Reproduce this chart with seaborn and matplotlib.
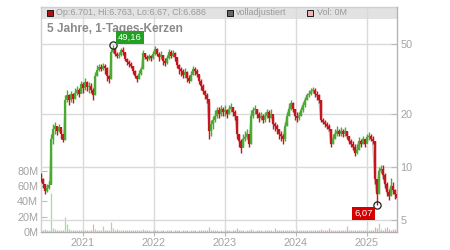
import numpy as np
import pandas as pd
import matplotlib
matplotlib.use('Agg')
import matplotlib.pyplot as plt
import matplotlib.dates as mdates
import matplotlib.ticker as mticker
from matplotlib.patches import Rectangle
import seaborn as sns

# ---------------- data ----------------
close = [8.6, 8.0, 7.3, 7.6, 7.9, 14.5, 16.5, 17.0, 16.0, 16.8,
         15.5, 14.3, 24.0, 25.5, 24.0, 26.0, 24.5, 26.5, 27.5, 26.0,
         29.5, 28.0, 30.5, 28.5, 29.0, 27.5, 25.5, 33.0, 35.5, 37.0,
         36.0, 37.5, 36.5, 33.0, 31.5, 45.0, 47.0, 44.0, 42.5, 43.5,
         46.0, 45.0, 41.0, 39.5, 38.5, 37.5, 35.0, 33.0, 31.5, 34.0,
         36.0, 44.5, 42.0, 41.0, 42.5, 41.5, 44.0, 47.0, 44.0, 42.0,
         43.5, 40.0, 39.0, 41.5, 45.0, 43.0, 44.5, 42.0, 38.0, 36.0,
         35.0, 33.5, 34.5, 32.0, 31.0, 33.5, 36.0, 35.0, 34.0, 31.0,
         29.0, 27.0, 25.5, 24.5, 16.0, 17.5, 18.5, 19.5, 21.0, 20.0,
         21.5, 20.5, 21.0, 20.0, 21.5, 22.0, 20.5, 19.5, 15.5, 14.0,
         12.8, 14.5, 14.8, 15.5, 13.5, 19.5, 21.0, 21.5, 20.0, 19.0,
         19.5, 18.5, 19.5, 20.5, 19.0, 20.0, 17.5, 17.0, 16.5, 15.5,
         15.0, 14.5, 17.0, 19.5, 21.5, 23.0, 21.5, 19.5, 19.0, 19.5,
         21.0, 22.5, 24.0, 25.5, 26.0, 27.0, 27.5, 26.0, 25.5, 24.0,
         18.5, 18.0, 17.5, 17.0, 16.5, 13.5, 14.5, 15.5, 16.0, 15.5,
         16.0, 15.5, 16.0, 15.0, 14.0, 13.5, 13.0, 12.0, 12.5, 14.0,
         13.5, 14.5, 13.5, 14.8, 15.0, 14.5, 14.0, 8.5, 7.0, 9.5,
         9.8, 9.0, 8.0, 7.2, 6.8, 7.8, 7.4, 7.0, 6.686]
high = [9.2, 8.7, 7.9, 8.0, 8.3, 15.5, 17.5, 18.0, 17.2, 17.6,
        16.5, 15.5, 25.5, 27.5, 26.0, 27.0, 26.5, 28.0, 29.0, 28.0,
        31.0, 30.5, 32.0, 31.0, 30.5, 30.0, 28.0, 34.5, 38.0, 38.5,
        38.5, 39.0, 38.5, 37.0, 33.5, 47.0, 49.16, 47.5, 45.0, 45.0,
        47.5, 48.0, 45.0, 41.5, 40.5, 39.5, 37.5, 35.5, 33.5, 35.5,
        37.0, 46.5, 44.5, 43.5, 44.0, 43.5, 45.5, 48.5, 47.5, 45.0,
        45.5, 43.5, 41.5, 43.5, 47.0, 46.0, 46.5, 45.0, 41.5, 38.5,
        37.0, 36.0, 36.5, 35.0, 33.5, 35.0, 37.5, 37.0, 36.0, 33.5,
        31.5, 29.5, 27.5, 26.5, 23.5, 18.5, 19.5, 21.0, 22.0, 22.0,
        22.5, 22.0, 22.5, 21.5, 22.5, 23.0, 22.0, 21.0, 19.5, 15.5,
        14.5, 15.5, 16.0, 16.5, 15.5, 21.0, 22.0, 22.5, 21.5, 20.5,
        20.5, 20.0, 20.5, 21.5, 21.0, 21.5, 19.5, 18.0, 17.5, 16.5,
        16.0, 15.5, 18.0, 20.5, 23.0, 24.0, 23.5, 21.5, 20.5, 20.5,
        22.0, 23.5, 25.0, 26.5, 27.5, 28.0, 28.6, 28.0, 27.0, 26.0,
        24.0, 19.0, 18.5, 18.0, 17.5, 16.5, 15.5, 16.5, 17.0, 16.5,
        16.8, 16.5, 16.8, 16.0, 15.0, 14.5, 14.0, 13.5, 13.5, 14.8,
        14.5, 15.0, 14.5, 15.5, 15.8, 15.5, 15.0, 14.0, 8.6, 10.0,
        10.3, 10.3, 9.2, 8.2, 7.5, 8.7, 8.2, 7.5, 7.1]
low = [8.2, 7.6, 7.0, 7.2, 7.5, 8.0, 13.5, 15.5, 15.2, 15.8,
       14.5, 13.8, 14.3, 23.5, 22.5, 23.5, 23.0, 24.5, 25.5, 25.0,
       26.5, 26.5, 27.5, 27.0, 26.5, 26.5, 24.0, 25.5, 33.0, 35.0,
       35.0, 35.5, 34.0, 31.0, 30.0, 31.5, 44.5, 43.0, 41.5, 41.5,
       43.0, 43.5, 40.0, 38.0, 37.0, 36.5, 34.0, 32.0, 30.5, 31.5,
       33.5, 36.0, 41.0, 40.0, 40.5, 40.0, 41.0, 43.5, 42.5, 40.0,
       41.0, 38.0, 37.5, 38.5, 41.0, 41.5, 42.0, 40.0, 36.5, 34.0,
       33.0, 32.0, 32.0, 30.5, 30.0, 31.0, 33.5, 33.5, 32.5, 29.5,
       27.5, 26.0, 24.5, 23.0, 14.5, 15.0, 16.5, 18.0, 19.0, 19.0,
       19.5, 19.5, 19.5, 19.0, 20.0, 20.5, 19.5, 18.5, 14.5, 13.0,
       12.0, 13.0, 14.0, 14.5, 13.0, 13.5, 19.0, 20.0, 19.0, 18.0,
       18.5, 17.8, 18.0, 19.0, 18.0, 19.0, 16.5, 16.0, 15.5, 14.5,
       14.0, 13.5, 14.0, 17.0, 19.5, 21.0, 20.5, 18.5, 18.0, 18.5,
       19.5, 20.5, 22.0, 24.0, 25.0, 25.5, 26.5, 25.0, 24.0, 23.0,
       18.0, 17.5, 16.8, 16.5, 16.0, 13.0, 13.5, 14.5, 15.0, 15.0,
       15.0, 14.8, 15.0, 14.5, 13.5, 13.0, 12.5, 11.5, 11.8, 12.5,
       13.0, 13.5, 13.0, 13.8, 14.2, 14.0, 13.5, 8.0, 6.07, 7.0,
       9.2, 8.6, 7.6, 6.8, 6.5, 6.8, 7.0, 6.6, 6.65]
volume_m = [3, 2.5, 3.5, 2, 2.5, 51, 5, 4, 3, 2.5,
            2, 3, 19, 10, 4, 3, 2.5, 3, 2, 2.5,
            3, 2, 2.5, 3, 2, 2.5, 10, 4, 3, 2.5,
            3, 8, 3, 2.5, 3, 13.5, 5, 3, 4, 2.5,
            2, 2.5, 3, 2, 2.5, 2, 3, 2.5, 2, 3,
            2.5, 4, 2, 2.5, 2, 1.5, 2, 2.5, 2, 1.5,
            2, 2.5, 1.5, 2, 2.5, 2, 1.5, 2, 2.5, 2,
            1.5, 2, 2.5, 2, 1.5, 2, 2.5, 2, 1.5, 2,
            2, 2.5, 2, 2.5, 6, 3, 2, 2.5, 2, 1.5,
            2, 1.5, 2, 2.5, 2, 1.5, 2, 2.5, 5, 3,
            2.5, 2, 1.5, 2, 2.5, 3.5, 2, 1.5, 2, 2.5,
            2, 1.5, 2, 2.5, 2, 2, 1.5, 5, 2, 2.5,
            2, 2.5, 2, 3, 2, 2.5, 2, 1.5, 2, 2.5,
            2, 2.5, 2, 2.5, 2, 3, 2, 2.5, 2, 2.5,
            4.5, 2.5, 2, 2.5, 5, 3, 2, 2.5, 2, 3,
            2.5, 2, 2.5, 8, 2, 2.5, 2, 3, 2.5, 2,
            2.5, 3, 2, 2.5, 3, 2, 3, 6, 5, 12,
            4, 3, 5, 6, 4, 3, 4, 3.5, 2]
first_open = 9.0
start_date = '2020-06-01'
end_date = '2025-06-02'
view_start = '2020-05-30'
view_end = '2025-06-04'
price_ticks = [5, 10, 20, 50]
volume_ticks = [0, 20, 40, 60, 80]
title = '5 Jahre, 1-Tages-Kerzen'
header_ohlc = 'Op:6.701, Hi:6.763, Lo:6.67, Cl:6.686'
header_adj = 'volladjustiert'
header_vol = 'Vol: 0M'

# ---------------- style ----------------
sns.set_theme(style='white')
plt.rcParams['font.family'] = ['Liberation Sans', 'DejaVu Sans']

RED = '#c3161d'
GREEN = '#4caa33'
VGREEN = '#a6dc9c'
VPINK = '#f1a9ab'
GRID = '#dadada'
TXT = '#a3a3a3'

dates = pd.date_range(start_date, end_date, periods=len(close))
opens = [first_open] + close[:-1]
df = pd.DataFrame(dict(date=dates, open=opens, high=high, low=low,
                       close=close, vol=volume_m))
up = (df['close'] >= df['open']).to_numpy()
cols = np.where(up, GREEN, RED)
vcols = np.where(up, VGREEN, VPINK)

fig = plt.figure(figsize=(4.5, 2.5), dpi=100)
axv = fig.add_axes([41 / 450, 18 / 250, 356 / 450, 225 / 250])
axp = axv.twinx()

# header strip
hdr_y0 = (232 - 19) / 225
axv.add_patch(Rectangle((0, hdr_y0), 1, 1 - hdr_y0, transform=axv.transAxes,
                        facecolor='#e2e2e2', edgecolor='none', zorder=0))

# volume
axv.vlines(df['date'], 0, df['vol'], colors=vcols, lw=0.9, zorder=2)
axv.set_ylim(0, 294)
axv.set_yticks(volume_ticks)
axv.set_yticklabels([f'{v}M' for v in volume_ticks])
axv.xaxis.set_major_locator(mdates.YearLocator())
axv.xaxis.set_major_formatter(mdates.DateFormatter('%Y'))
axv.grid(axis='x', color=GRID, lw=1)
axv.grid(axis='y', visible=False)
axv.tick_params(axis='y', left=True, direction='in', length=4, width=0.8,
                color='#bdbdbd', labelsize=7.8, labelcolor=TXT, pad=2)
axv.tick_params(axis='x', bottom=True, direction='out', length=3, width=0.8,
                color='#bdbdbd', labelsize=7.8, labelcolor=TXT, pad=1.5)

# price
axp.set_yscale('log')
sns.lineplot(data=df, x='date', y='close', ax=axp, color='#b8b8b8', lw=0.9,
             estimator=None, zorder=2)
axp.vlines(df['date'], df['low'], df['high'], colors=cols, lw=1.0, zorder=3)
axp.vlines(df['date'], df['open'], df['close'], colors=cols, lw=1.6, zorder=4)
axp.set_ylim(4.27, 81.2)
axp.yaxis.set_major_locator(mticker.FixedLocator(price_ticks))
axp.yaxis.set_minor_locator(mticker.NullLocator())
axp.yaxis.set_major_formatter(mticker.FixedFormatter([str(t) for t in price_ticks]))
axp.grid(axis='y', which='major', color=GRID, lw=1)
axp.grid(axis='x', visible=False)
axp.set_ylabel('')
axp.set_xlabel('')
axv.set_xlabel('')
axv.set_ylabel('')
axp.tick_params(axis='y', right=True, direction='in', length=4, width=0.8,
                color='#bdbdbd', labelsize=7.8, labelcolor=TXT, pad=2.5)

# max / min markers
i_max = int(np.argmax(df['high']))
i_min = int(np.argmin(df['low']))
for idx, val, col, off in [(i_max, df['high'][i_max], '#22a022', (12, 5.6)),
                           (i_min, df['low'][i_min], '#d40000', (-9.6, -6.2))]:
    axp.plot([df['date'][idx]], [val], 'o', mfc='none', mec='#222222',
             ms=5.2, mew=0.9, zorder=6)
    axp.annotate(f'{val:.2f}'.replace('.', ','), xy=(df['date'][idx], val),
                 xytext=off, textcoords='offset points', ha='center',
                 va='center', color='white', fontsize=6.8, zorder=7,
                 bbox=dict(boxstyle='square,pad=0.22', fc=col, ec='none'))

# spines
for s in ['left', 'top']:
    axv.spines[s].set_color('#cfcfcf')
axv.spines['bottom'].set_color('#b0b0b0')
axv.spines['right'].set_visible(False)
for s in ['left', 'top', 'bottom']:
    axp.spines[s].set_visible(False)
axp.spines['right'].set_color('#b5b5b5')
for sp in list(axv.spines.values()) + list(axp.spines.values()):
    sp.set_linewidth(1)

# header & title
hy = (232 - 13) / 225
for sx, fc, tx, label in [(49.5, '#b31010', 56, header_ohlc),
                          (229.5, '#666666', 236, header_adj),
                          (310, '#f2b3b6', 317, header_vol)]:
    axp.plot([(sx - 41) / 356], [hy], marker='s', ms=4.6, mfc=fc,
             mec='#1a1a1a', mew=0.7, transform=axp.transAxes,
             clip_on=False, zorder=8)
    axp.text((tx - 41) / 356, hy, label, transform=axp.transAxes,
             fontsize=6.5, color='#9a9a9a', ha='left', va='center', zorder=8)
axp.text((47 - 41) / 356, (232 - 29) / 225, title, transform=axp.transAxes,
         fontsize=8.6, fontweight='bold', color='#8a8a8a', ha='left',
         va='center', zorder=5)

axv.set_xlim(pd.Timestamp(view_start), pd.Timestamp(view_end))
fig.savefig('out.png', dpi=100)
